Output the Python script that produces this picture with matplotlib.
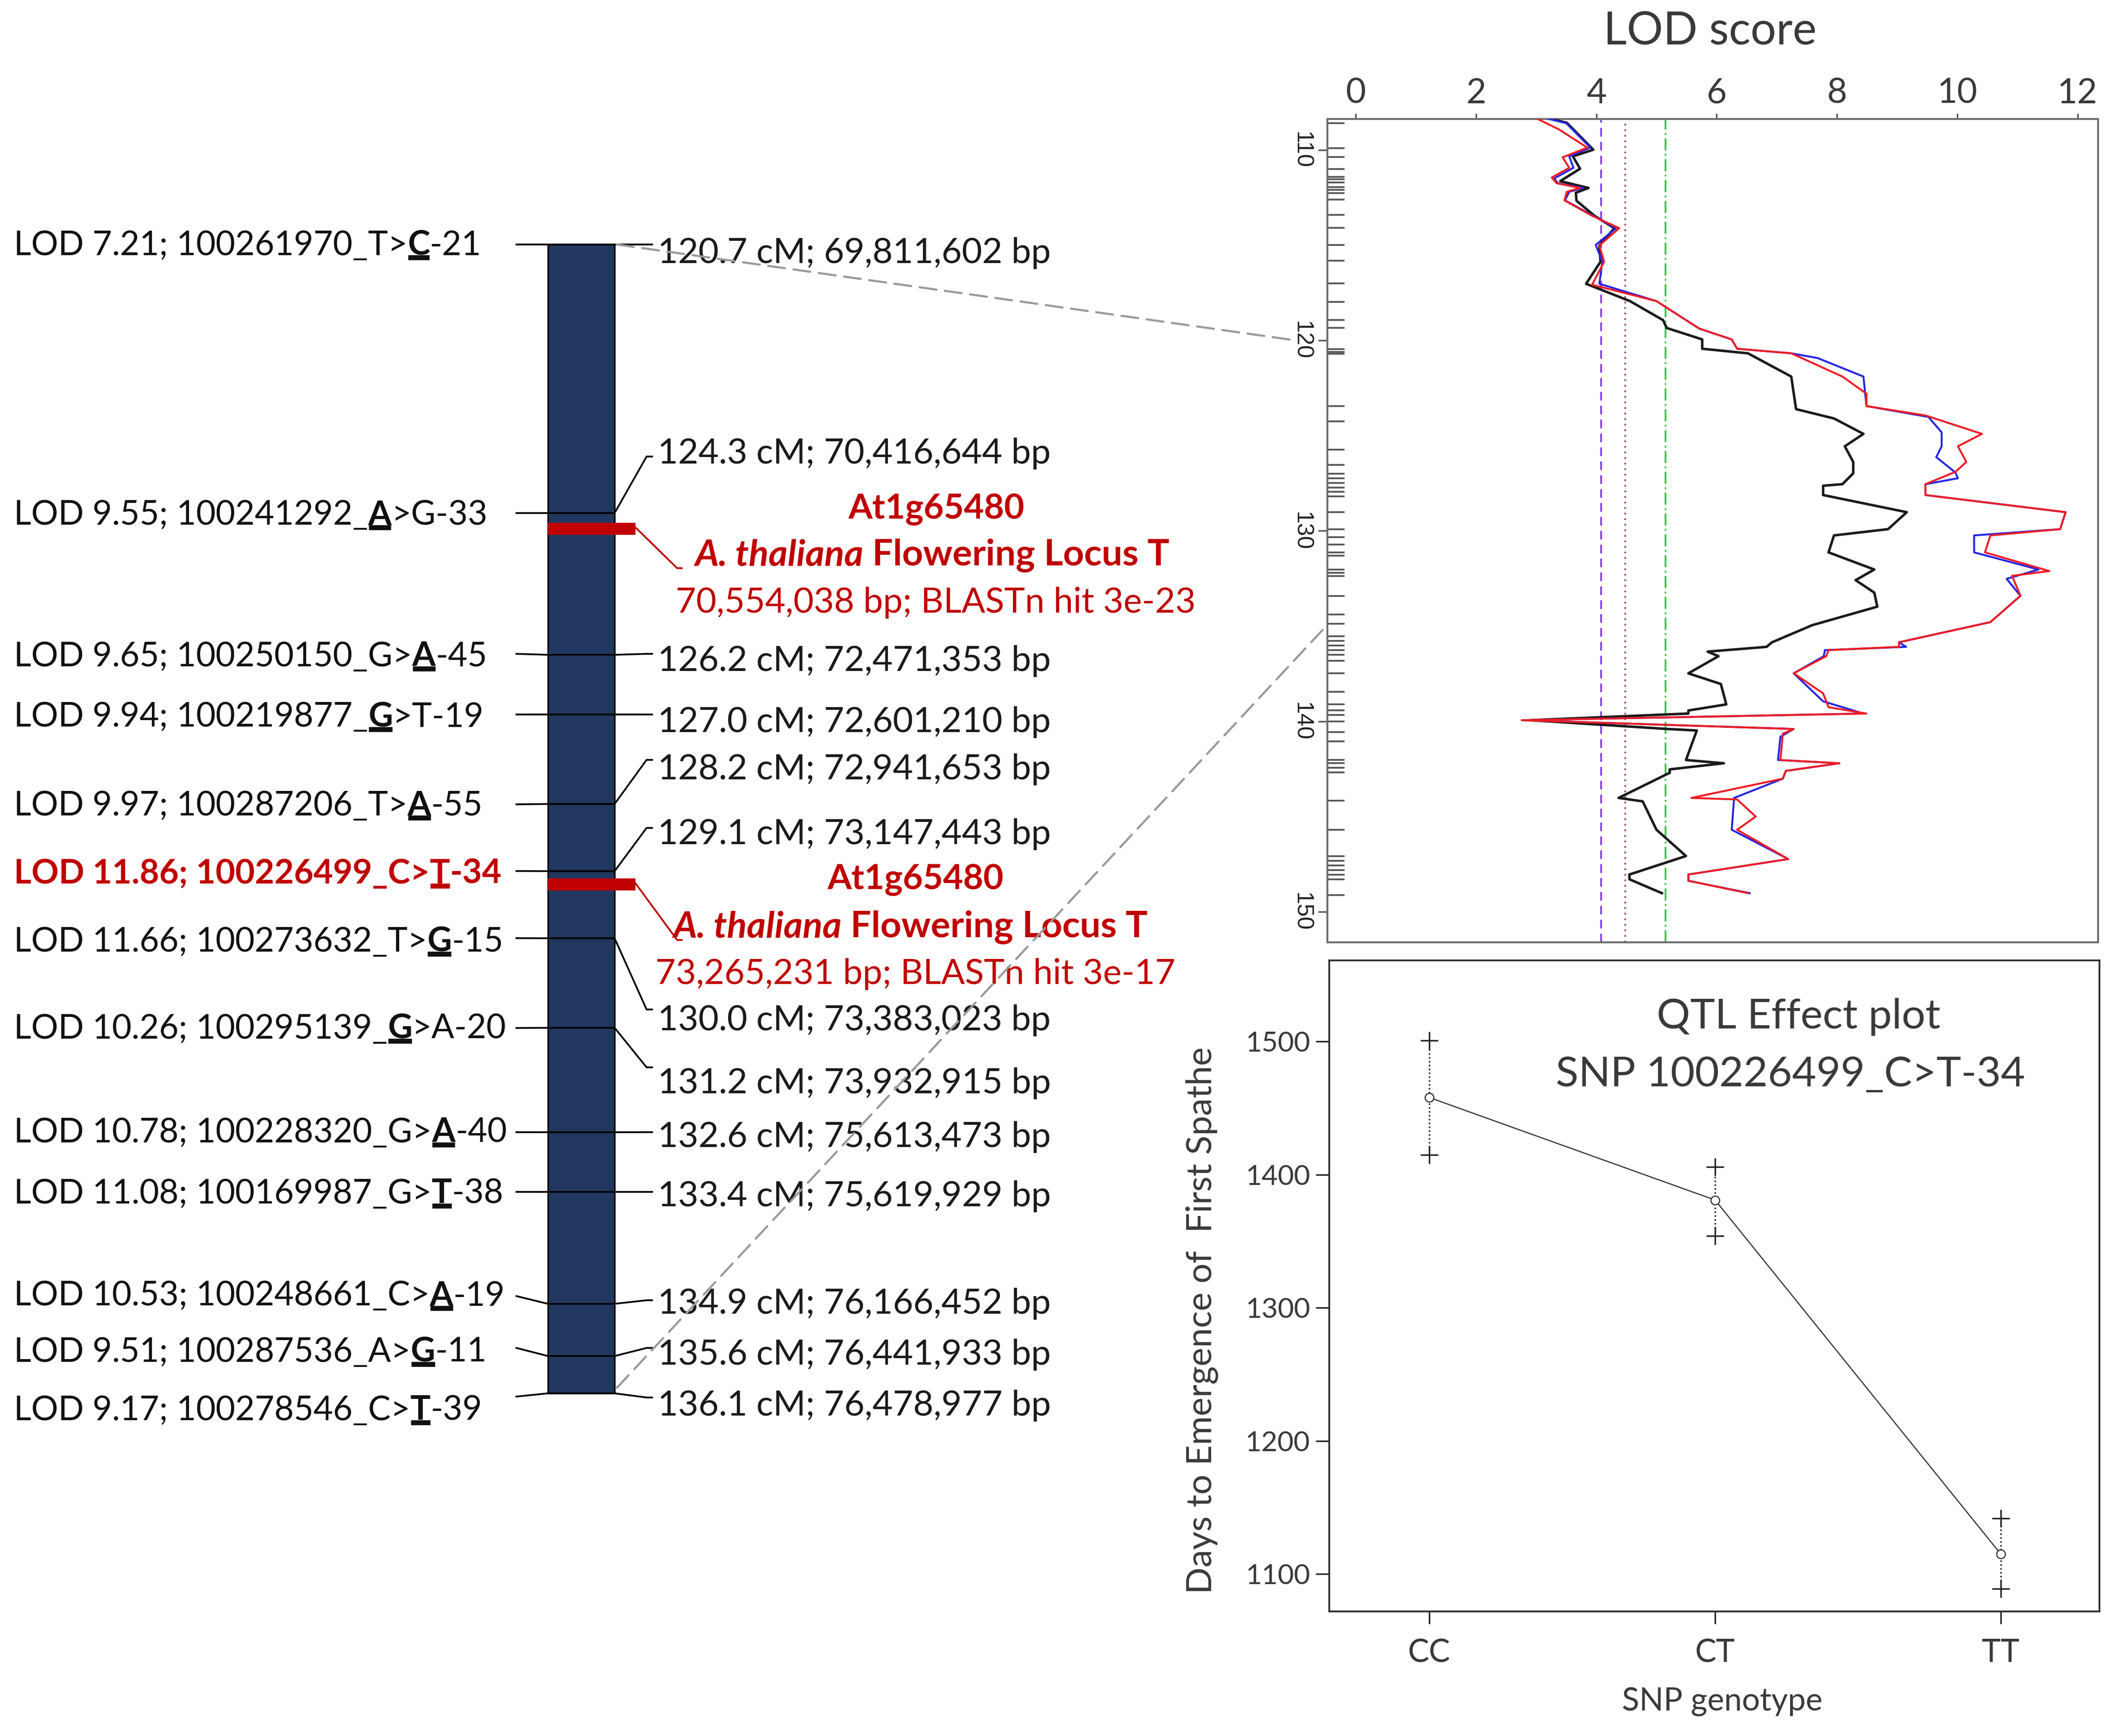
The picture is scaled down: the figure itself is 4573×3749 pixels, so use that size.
import matplotlib
matplotlib.use("Agg")
import matplotlib.pyplot as plt
from matplotlib.patches import Rectangle, ConnectionPatch
from matplotlib.font_manager import FontProperties
from matplotlib.textpath import TextPath

plt.rcParams['font.family'] = ['Lato', 'DejaVu Sans']

W, H = 4573, 3749
DPI = 300

# ------------------------------------------------------------------
# LOD profile (cM on the vertical axis, LOD on the horizontal axis)
# ------------------------------------------------------------------
black_cm = [108.37, 108.58, 109.99, 110.34, 110.99, 111.64, 112.0, 112.25, 112.67, 113.46,
            114.11, 115.02, 115.87, 117.03, 117.94, 118.94, 119.35, 119.95, 120.44, 120.68,
            121.9, 123.61, 124.1, 124.91, 125.56, 126.38, 126.98, 127.55, 127.63, 128.12,
            129.02, 129.91, 130.24, 131.13, 132.03, 132.59, 133.24, 133.98, 134.95, 135.85,
            136.09, 136.34, 136.58, 137.48, 138.04, 139.11, 139.43, 139.59, 139.94, 140.40,
            140.48, 142.03, 142.2, 142.52, 142.7, 144.02, 144.2, 145.69, 147.07, 148.04,
            148.29, 149.02]
black_lod = [3.24, 3.51, 3.95, 3.61, 3.73, 3.40, 3.87, 3.66, 3.67, 3.97,
             4.30, 4.05, 4.07, 3.83, 4.56, 5.11, 5.17, 5.76, 5.76, 6.52,
             7.24, 7.32, 7.95, 8.44, 8.13, 8.27, 8.27, 8.09, 7.77, 7.77,
             9.16, 8.85, 7.95, 7.86, 8.62, 8.31, 8.62, 8.67, 7.59, 6.92,
             6.83, 5.85, 6.03, 5.53, 6.07, 6.16, 5.53, 5.53, 2.90, 5.18,
             5.67, 5.49, 6.12, 5.22, 5.22, 4.37, 4.77, 5.00, 5.49, 4.55,
             4.55, 5.09]

blue_cm = [108.37, 108.6, 109.88, 110.34, 110.94, 111.5, 111.75, 112.0, 112.2, 112.65,
           113.46, 114.11, 114.99, 115.87, 117.03, 117.94, 119.38, 119.95, 120.44, 120.68,
           120.93, 121.9, 123.45, 124.02, 124.83, 125.56, 126.13, 126.94, 127.24, 127.55,
           128.12, 129.02, 129.91, 130.24, 131.13, 132.03, 132.52, 133.41, 134.79, 135.85,
           136.09, 136.26, 136.58, 137.48, 138.95, 139.59, 139.94, 140.40, 140.81, 142.03,
           142.2, 142.6, 143.01, 144.02, 145.69, 147.23, 148.04, 148.37, 149.02]
blue_lod = [3.20, 3.50, 3.90, 3.55, 3.62, 3.30, 3.36, 3.78, 3.55, 3.48,
            3.95, 4.33, 3.99, 4.10, 4.05, 5.00, 5.71, 6.25, 6.34, 7.24,
            7.68, 8.44, 8.49, 9.52, 9.74, 9.74, 9.65, 9.97, 10.01, 9.47,
            9.47, 11.80, 11.71, 10.28, 10.28, 11.35, 10.82, 11.05, 10.55, 9.03,
            9.15, 7.80, 7.78, 7.28, 7.77, 8.44, 2.80, 7.28, 7.06, 7.02,
            8.04, 7.15, 7.10, 6.29, 6.25, 7.19, 5.53, 5.53, 6.55]

red_cm = [108.37, 108.93, 109.88, 110.39, 110.94, 111.45, 111.75, 112.0, 112.2, 112.65,
          113.46, 114.11, 115.02, 115.87, 117.08, 117.94, 119.38, 119.95, 120.44, 120.68,
          121.9, 122.80, 123.45, 123.94, 124.91, 125.56, 126.38, 126.90, 127.55, 128.12,
          129.02, 129.91, 130.24, 131.13, 132.11, 132.36, 133.41, 134.79, 135.85, 136.09,
          136.26, 136.58, 137.48, 138.53, 139.26, 139.59, 139.94, 140.40, 140.65, 142.03,
          142.2, 142.6, 143.01, 144.02, 144.1, 145.0, 145.69, 147.23, 148.04, 148.37,
          149.02]
red_lod = [3.02, 3.38, 3.85, 3.44, 3.55, 3.26, 3.34, 3.73, 3.51, 3.47,
           3.93, 4.38, 4.05, 4.13, 3.93, 5.00, 5.71, 6.25, 6.34, 7.24,
           8.09, 8.49, 8.49, 9.47, 10.41, 10.01, 10.15, 9.97, 9.47, 9.47,
           11.80, 11.71, 10.55, 10.46, 11.53, 10.91, 11.05, 10.55, 9.03, 9.03,
           7.86, 7.82, 7.28, 7.77, 7.86, 8.49, 2.76, 7.28, 7.10, 7.06,
           8.04, 7.15, 7.10, 5.58, 6.34, 6.65, 6.34, 7.19, 5.53, 5.53,
           6.52]

thresholds = [4.08, 4.48, 5.15]
threshold_colors = ['#7f3cf5', '#a0525e', '#33c84a']
threshold_styles = [(0, (5, 3)), (0, (1, 2.2)), (0, (7, 2, 1, 2))]

rug_cm = [108.60, 109.92, 110.38, 111.0, 111.41, 111.55, 111.70, 111.96, 112.11, 112.26,
          112.62, 113.41, 114.09, 115.0, 115.83, 117.01, 117.99, 118.92, 119.35, 120.47,
          120.60, 120.71, 123.45, 124.26, 125.73, 126.54, 126.99, 127.24, 127.48, 127.72,
          127.96, 128.2, 129.02, 129.92, 130.32, 130.73, 131.14, 131.30, 132.03, 132.19,
          132.36, 133.41, 134.39, 134.88, 135.53, 135.77, 136.02, 136.26, 136.5, 136.83,
          137.48, 138.45, 139.11, 139.43, 139.67, 140.0, 140.57, 141.06, 142.03, 142.2,
          142.44, 142.68, 144.15, 145.69, 147.07, 147.32, 147.56, 147.81, 148.05, 148.29,
          149.11]

# ------------------------------------------------------------------
# Linkage group markers
# ------------------------------------------------------------------
marker_cm = [120.7, 124.3, 126.2, 127.0, 128.2, 129.1, 130.0, 131.2, 132.6, 133.4, 134.9, 135.6, 136.1]
marker_bp = [69811602, 70416644, 72471353, 72601210, 72941653, 73147443, 73383023,
             73932915, 75613473, 75619929, 76166452, 76441933, 76478977]
snp_lod = [7.21, 9.55, 9.65, 9.94, 9.97, 11.86, 11.66, 10.26, 10.78, 11.08, 10.53, 9.51, 9.17]
snp_name = ['100261970_T>{C}-21', '100241292_{A}>G-33', '100250150_G>{A}-45',
            '100219877_{G}>T-19', '100287206_T>{A}-55', '100226499_C>{T}-34',
            '100273632_T>{G}-15', '100295139_{G}>A-20', '100228320_G>{A}-40',
            '100169987_G>{T}-38', '100248661_C>{A}-19', '100287536_A>{G}-11',
            '100278546_C>{T}-39']
peak_marker = 5

hit_cm = [124.43, 129.2]
hit_gene = ['At1g65480', 'At1g65480']
hit_bp = [70554038, 73265231]
hit_evalue = ['3e-23', '3e-17']

# ------------------------------------------------------------------
# QTL effect plot
# ------------------------------------------------------------------
genotypes = ['CC', 'CT', 'TT']
geno_mean = [1458, 1381, 1115]
geno_upper = [1501, 1406, 1142]
geno_lower = [1415, 1354, 1089]

# ------------------------------------------------------------------
# layout (pixel coordinates of the canvas)
# ------------------------------------------------------------------
bar_x0, bar_x1 = 1183, 1327
bar_top, bar_bot = 528, 3009
stub_lx, stub_rx = 1115, 1396
label_lx, label_rx = 30, 1420
left_text_y = [530, 1113, 1418, 1549, 1740, 1887, 2034, 2222, 2446, 2578, 2799, 2920, 3046]
left_stub_y = [528, 1108, 1412, 1543, 1737, 1881, 2026, 2220, 2445, 2574, 2799, 2911, 3016]
right_text_y = [546, 979, 1428, 1559, 1661, 1801, 2203, 2340, 2455, 2584, 2815, 2926, 3035]
right_stub_y = [528, 986, 1412, 1543, 1641, 1788, 2180, 2305, 2445, 2574, 2808, 2911, 3018]
hit_text_pos = [((2022, 1100), (1500, 1199), (2020, 1301)),
                ((1977, 1900), (1453, 2002), (1976, 2104))]

FS = 17.5
FS_R = 18.2
RED = '#c00000'
NAVY = '#22375f'
DARK = '#3a3a3a'

fig = plt.figure(figsize=(W / DPI, H / DPI), dpi=DPI)
cv = fig.add_axes([0, 0, 1, 1])
cv.set_xlim(0, W)
cv.set_ylim(H, 0)
cv.axis('off')
renderer = fig.canvas.get_renderer()
px_per_pt = DPI / 72.0


def right_edge(t):
    bb = t.get_window_extent(renderer)
    return cv.transData.inverted().transform((bb.x1, bb.y0))[0]


def chain_text(x, y, parts, size, color):
    """Draw text pieces one after another on a common line; return the pieces."""
    out = []
    for s, weight, style in parts:
        t = cv.text(x, y, s, ha='left', va='center', fontsize=size, color=color,
                    weight=weight, style=style, zorder=4)
        out.append(t)
        x = right_edge(t)
    return out


def underline(t, size, color):
    prop = FontProperties(family=['Lato'], weight='bold', size=size)
    # vertical position of an underscore glyph relative to the baseline (points)
    ys = TextPath((0, 0), '_', prop=prop).vertices[:, 1]
    _, h, d = renderer.get_text_width_height_descent('lp', prop, ismath=False)
    bb = t.get_window_extent(renderer)
    inv = cv.transData.inverted()
    x0 = inv.transform((bb.x0, bb.y0))[0]
    x1 = inv.transform((bb.x1, bb.y0))[0]
    y_center = t.get_position()[1]
    baseline = y_center + (h / 2 - d)
    uy = baseline - (ys.min() + ys.max()) / 2 * px_per_pt
    cv.plot([x0 + 1, x1 - 1], [uy, uy], color=color, lw=(ys.max() - ys.min()),
            solid_capstyle='butt', zorder=4)


def snp_text(x, y, text, color, weight):
    pre, rest = text.split('{')
    mark, post = rest.split('}')
    pieces = chain_text(x, y, [(pre, weight, 'normal'), (mark, 'bold', 'normal'),
                               (post, weight, 'normal')], FS, color)
    underline(pieces[1], FS, color)


# chromosome bar
cv.add_patch(Rectangle((bar_x0, bar_top), bar_x1 - bar_x0, bar_bot - bar_top,
                       facecolor=NAVY, edgecolor='black', lw=0.8, zorder=1))


def cm_to_y(cm):
    return bar_top + (cm - marker_cm[0]) / (marker_cm[-1] - marker_cm[0]) * (bar_bot - bar_top)


for i, cm in enumerate(marker_cm):
    yb = cm_to_y(cm)
    cv.plot([stub_lx, bar_x0, bar_x1], [left_stub_y[i], yb, yb], color='black', lw=0.9, zorder=3)
    cv.plot([bar_x1, stub_rx, stub_rx + 12], [yb, right_stub_y[i], right_stub_y[i]],
            color='black', lw=0.9, zorder=3)
    is_peak = i == peak_marker
    snp_text(label_lx, left_text_y[i], f'LOD {snp_lod[i]:.2f}; ' + snp_name[i],
             RED if is_peak else '#111111', 'bold' if is_peak else 'normal')
    cv.text(label_rx, right_text_y[i], f'{cm:.1f} cM; {marker_bp[i]:,} bp',
            ha='left', va='center', fontsize=FS_R, color='#1a1a1a', zorder=4)

# BLAST hits
for j, cm in enumerate(hit_cm):
    yh = cm_to_y(cm)
    cv.add_patch(Rectangle((bar_x0, yh), 1372 - bar_x0, 26, facecolor=RED, edgecolor='none', zorder=2))
    p_gene, p_name, p_hit = hit_text_pos[j]
    cv.plot([1372, 1462, 1472], [yh + 10, p_name[1] + 28, p_name[1] + 28], color=RED, lw=0.9, zorder=3)
    cv.text(p_gene[0], p_gene[1], hit_gene[j], ha='center', va='center', fontsize=18,
            color=RED, weight='bold')
    chain_text(p_name[0], p_name[1], [('A. thaliana', 'bold', 'italic'),
                                      (' Flowering Locus T', 'bold', 'normal')], 19, RED)
    cv.text(p_hit[0], p_hit[1], f'{hit_bp[j]:,} bp; BLASTn hit {hit_evalue[j]}',
            ha='center', va='center', fontsize=18.2, color=RED)

# ------------------------------------------------------------------
# LOD panel
# ------------------------------------------------------------------
ax = fig.add_axes([2866 / W, 1 - 2035 / H, (4530 - 2866) / W, (2035 - 256.6) / H])
ax.plot(black_lod, black_cm, color='#1a1a1a', lw=1.3, zorder=3)
ax.plot(blue_lod, blue_cm, color='#2424e6', lw=1.0, zorder=4)
ax.plot(red_lod, red_cm, color='#ee1c24', lw=1.0, zorder=5)
for v, c, ls in zip(thresholds, threshold_colors, threshold_styles):
    ax.axvline(v, color=c, ls=ls, lw=0.9, zorder=2)
ax.hlines(rug_cm, 0, 0.022, transform=ax.get_yaxis_transform(), color='#555555', lw=0.9)
ax.set_xlim(-0.47, 12.34)
ax.set_ylim(151.6, 108.37)
ax.xaxis.tick_top()
ax.set_xticks(range(0, 13, 2))
ax.set_yticks(range(110, 151, 10))
ax.tick_params(axis='x', length=3, width=0.8, pad=2, labelsize=18, colors='#555555',
               labelcolor=DARK)
ax.tick_params(axis='y', length=4.8, width=0.8, pad=3, labelsize=12, colors='#555555',
               labelcolor='#222222')
for lbl in ax.get_yticklabels():
    lbl.set_rotation(-90)
    lbl.set_va('center')
    lbl.set_family(['Liberation Sans', 'DejaVu Sans'])
for s in ax.spines.values():
    s.set_color('#6e6e6e')
    s.set_linewidth(1.0)
cv.text(3692, 67, 'LOD score', ha='center', va='center', fontsize=23.5, color=DARK)

# dashed links between the bar and the LOD panel
for (xa, ya), (xb, yb) in [((bar_x1 + 5, bar_top), (-1.0, 120.0)),
                           ((bar_x1 + 5, bar_bot - 12), (-0.55, 135.2))]:
    fig.add_artist(ConnectionPatch(xyA=(xa, ya), coordsA=cv.transData,
                                   xyB=(xb, yb), coordsB=ax.transData,
                                   color='#9a9a9a', lw=1.1, ls=(0, (8, 4))))

# ------------------------------------------------------------------
# QTL effect panel
# ------------------------------------------------------------------
ex = fig.add_axes([2870 / W, 1 - 3480 / H, (4533 - 2870) / W, (3480 - 2074) / H])
ex.patch.set_alpha(0)
xs = [1, 2, 3]
ex.plot(xs, geno_mean, color='#333333', lw=0.6)
ex.vlines(xs, geno_lower, geno_upper, colors='#222222', linestyles=(0, (1, 1.5)), lw=0.8)
ex.plot(xs, geno_upper, '+', color='#222222', ms=9, mew=0.8)
ex.plot(xs, geno_lower, '+', color='#222222', ms=9, mew=0.8)
ex.plot(xs, geno_mean, 'o', mfc='white', mec='#333333', ms=4.5, mew=0.6)
ex.set_xlim(0.65, 3.345)
ex.set_ylim(1072, 1561)
ex.set_xticks(xs)
ex.set_xticklabels(genotypes)
ex.set_yticks(range(1100, 1501, 100))
ex.tick_params(axis='x', length=6.5, width=0.8, pad=7.5, labelsize=16.5, colors='#222222',
               labelcolor=DARK)
ex.tick_params(axis='y', length=7, width=0.8, pad=3, labelsize=14.5, colors='#222222',
               labelcolor=DARK)
for s in ex.spines.values():
    s.set_color('#2a2a2a')
    s.set_linewidth(0.9)
ex.set_xlabel('SNP genotype', fontsize=16.5, color=DARK)
ex.xaxis.label.set_va('center')
ex.xaxis.set_label_coords(0.51, -0.139)
ex.set_ylabel('Days to Emergence of  First Spathe', fontsize=18.3, color=DARK)
ex.yaxis.label.set_va('center')
ex.yaxis.set_label_coords(-0.165, 0.447)
ex.text(3883, 2196, 'QTL Effect plot', transform=cv.transData, ha='center', va='center',
        fontsize=21.7, color=DARK)
ex.text(3866, 2321, 'SNP 100226499_C>T-34', transform=cv.transData, ha='center', va='center',
        fontsize=21.7, color=DARK)

fig.savefig('out.png', dpi=DPI, facecolor='white')
